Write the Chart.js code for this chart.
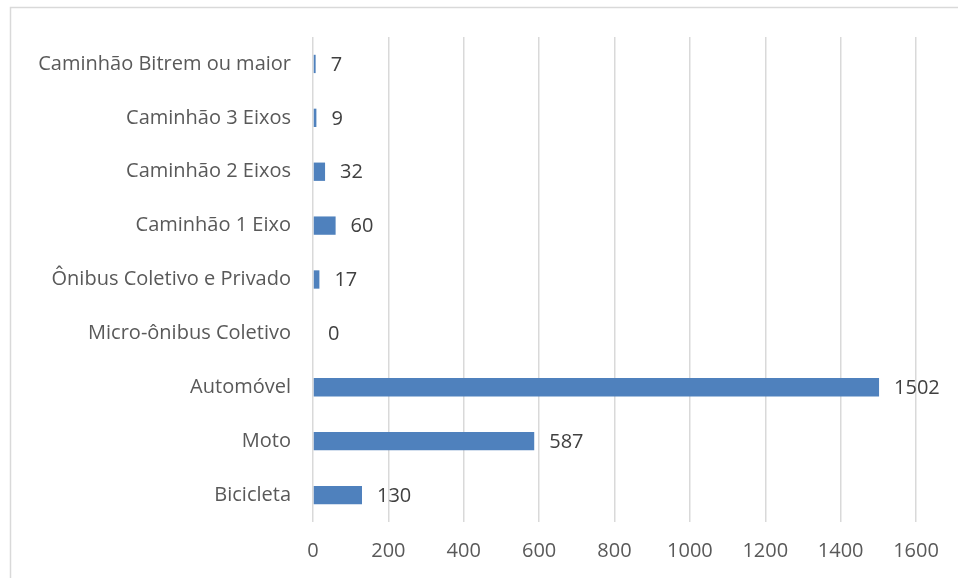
<!DOCTYPE html>
<html>
<head>
<meta charset="utf-8">
<script src="https://cdn.jsdelivr.net/npm/chart.js@4"></script>
<style>
  html, body { margin: 0; padding: 0; background: #fff; }
  #wrap { width: 958px; height: 578px; }
</style>
</head>
<body>
<div id="wrap"><canvas id="barchart" width="958" height="578"></canvas></div>
<script>
var categories = [
    'Caminhão Bitrem ou maior',
    'Caminhão 3 Eixos',
    'Caminhão 2 Eixos',
    'Caminhão 1 Eixo',
    'Ônibus Coletivo e Privado',
    'Micro-ônibus Coletivo',
    'Automóvel',
    'Moto',
    'Bicicleta'
];
var counts = [7, 9, 32, 60, 17, 0, 1502, 587, 130];
var xTicks = [0, 200, 400, 600, 800, 1000, 1200, 1400, 1600];

var fontFamily = "'Open Sans', 'Noto Sans', sans-serif";
var fontSize = 20;

// frame around the chart (left and top edges are visible)
var framePlugin = {
    id: 'frame',
    beforeDraw: function(chart) {
        var c = chart.ctx;
        c.save();
        c.strokeStyle = '#d9d9d9';
        c.lineWidth = 1.5;
        c.beginPath();
        c.moveTo(10.5, 578);
        c.lineTo(10.5, 7.5);
        c.lineTo(958, 7.5);
        c.stroke();
        c.restore();
    }
};

// value labels to the right of each bar
var valueLabels = {
    id: 'valueLabels',
    afterDatasetsDraw: function(chart) {
        var c = chart.ctx;
        var meta = chart.getDatasetMeta(0);
        c.save();
        c.fillStyle = '#404040';
        c.font = fontSize + 'px ' + fontFamily;
        c.textAlign = 'left';
        c.textBaseline = 'middle';
        meta.data.forEach(function(bar, i) {
            c.fillText(String(counts[i]), bar.x + 15, bar.y + 1);
        });
        c.restore();
    }
};

var ctx1 = document.getElementById('barchart').getContext('2d');

var barchart = new Chart(ctx1, {
    type: 'bar',
    data: {
        labels: categories,
        datasets: [
            {
                label: 'Quantidade',
                data: counts,
                backgroundColor: '#4f81bd',
                borderColor: '#4f81bd',
                borderWidth: 0,
                categoryPercentage: 1,
                barPercentage: 0.34
            }
        ]
    },
    options: {
        indexAxis: 'y',
        responsive: false,
        animation: false,
        layout: {
            padding: { top: 37, right: 42, left: 0, bottom: 0 }
        },
        plugins: {
            legend: { display: false },
            tooltip: { enabled: false }
        },
        scales: {
            x: {
                min: 0,
                max: 1600,
                afterBuildTicks: function(scale) {
                    scale.ticks = xTicks.map(function(v) { return { value: v }; });
                },
                afterFit: function(scale) { scale.height = 56; },
                grid: {
                    color: '#d9d9d9',
                    lineWidth: 1.5,
                    drawTicks: false
                },
                border: { display: false },
                ticks: {
                    color: '#595959',
                    font: { family: fontFamily, size: fontSize },
                    padding: 17,
                    callback: function(v) { return String(v); }
                }
            },
            y: {
                afterFit: function(scale) { scale.width = 313; },
                grid: { display: false, drawTicks: false },
                border: { display: false },
                ticks: {
                    color: '#595959',
                    font: { family: fontFamily, size: fontSize },
                    padding: 22
                }
            }
        }
    },
    plugins: [framePlugin, valueLabels]
});
</script>
</body>
</html>
